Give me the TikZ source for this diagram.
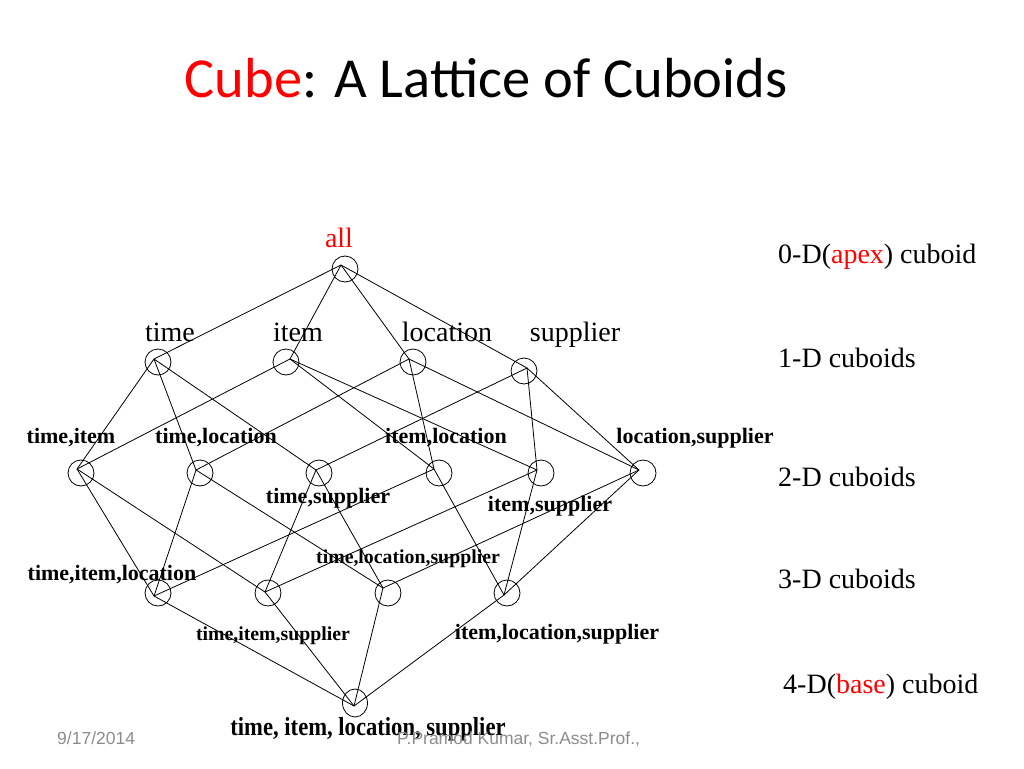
\documentclass[tikz,border=0pt]{standalone}
\usepackage{fontspec}
\setmainfont{Liberation Serif}
\newfontfamily\titlefont{Carlito}
\newfontfamily\footfont{Liberation Sans}
\usetikzlibrary{shapes.geometric}
\definecolor{hired}{HTML}{FF0000}
\definecolor{footgray}{HTML}{8C8C8C}
\tikzset{
  cub/.style={circle,draw,line width=0.8pt,minimum size=26pt,inner sep=0pt},
  basecub/.style={ellipse,draw,line width=0.8pt,minimum width=25pt,minimum height=28pt,inner sep=0pt},
  edge/.style={line width=0.8pt},
  lab/.style={font=\fontsize{28}{30}\selectfont,anchor=base,inner sep=0pt},
  blab/.style={font=\fontsize{22}{24}\selectfont\bfseries,anchor=base,inner sep=0pt},
  slab/.style={font=\fontsize{19.8}{22}\selectfont\bfseries,anchor=base,inner sep=0pt},
  foot/.style={font=\fontsize{17.5}{19}\selectfont\footfont,text=footgray,anchor=base,inner sep=0pt},
}
\begin{document}
\begin{tikzpicture}[x=1pt,y=-1pt]
\useasboundingbox (0,0) rectangle (1024,768);
% title
\node[font=\fontsize{56.5}{60}\selectfont\titlefont,anchor=base,inner sep=0pt] (title) at (486,97) {\textcolor{hired}{Cube}: A Lattice of Cuboids};
% nodes
\node[cub] (all) at (345,269) {};
\node[cub] (time) at (158,362) {};
\node[cub] (item) at (286,362) {};
\node[cub] (loc) at (413,362) {};
\node[cub] (sup) at (524,371) {};
\node[cub] (ti) at (81,473) {};
\node[cub] (tl) at (200,473) {};
\node[cub] (ts) at (319,473) {};
\node[cub] (il) at (439,473) {};
\node[cub] (is) at (541,473) {};
\node[cub] (ls) at (643,473) {};
\node[cub] (til) at (158,593) {};
\node[cub] (tis) at (268,593) {};
\node[cub] (tls) at (388,593) {};
\node[cub] (ils) at (507,593) {};
\node[basecub] (base) at (355,703) {};
% convergence points
\coordinate (allp) at (341,265);
\coordinate (timep) at (154,359);
\coordinate (itemp) at (290,359);
\coordinate (locp) at (409,359);
\coordinate (supp) at (527,368);
\coordinate (tip) at (77,469);
\coordinate (tlp) at (196,470);
\coordinate (tsp) at (316,470);
\coordinate (ilp) at (434,469);
\coordinate (isp) at (537,470);
\coordinate (lsp) at (639,470);
\coordinate (tilp) at (154,596);
\coordinate (tisp) at (265,592);
\coordinate (tlsp) at (383,588);
\coordinate (ilsp) at (504,595);
\coordinate (basep) at (354,706);
% edges
\foreach \a/\b in {allp/timep,allp/itemp,allp/locp,allp/supp,
  timep/tip,timep/tlp,timep/tsp,
  itemp/tip,itemp/ilp,itemp/isp,
  locp/tlp,locp/ilp,locp/lsp,
  supp/tsp,supp/isp,supp/lsp,
  tip/tilp,tip/tisp,
  tlp/tilp,tlp/tlsp,
  tsp/tisp,tsp/tlsp,
  ilp/tilp,ilp/ilsp,
  isp/tisp,isp/ilsp,
  lsp/tlsp,lsp/ilsp,
  tilp/basep,tisp/basep,tlsp/basep,ilsp/basep}
  \draw[edge] (\a) -- (\b);
% labels
\node[lab,text=hired] (lall) at (339,247) {all};
\node[lab] (ltime) at (170,341) {time};
\node[lab] (litem) at (298,341) {item};
\node[lab] (lloc) at (447,341) {location};
\node[lab] (lsup) at (575,341) {supplier};
\node[blab] (lti) at (71,443) {time,item};
\node[blab] (ltl) at (216,443) {time,location};
\node[blab] (lil) at (446,443) {item,location};
\node[blab] (lls) at (695,443) {location,supplier};
\node[blab] (lts) at (328,503) {time,supplier};
\node[blab] (lis) at (550,511) {item,supplier};
\node[slab] (ltls) at (408,563) {time,location,supplier};
\node[blab] (ltil) at (112,580) {time,item,location};
\node[slab] (ltis) at (273,640) {time,item,supplier};
\node[blab] (lils) at (557,639) {item,location,supplier};
\node[font=\fontsize{26}{28}\selectfont\bfseries,anchor=base,inner sep=0pt] (lbase) at (368,735) {\scalebox{0.87}[1]{time, item, location, supplier}};
% right column
\node[lab,anchor=base west] (r0) at (778,263) {0-D(\textcolor{hired}{apex}) cuboid};
\node[lab,anchor=base west] (r1) at (778,367) {1-D cuboids};
\node[lab,anchor=base west] (r2) at (778,486) {2-D cuboids};
\node[lab,anchor=base west] (r3) at (778,588) {3-D cuboids};
\node[lab,anchor=base west] (r4) at (783,693) {4-D(\textcolor{hired}{base}) cuboid};
% footer
\node[foot,anchor=base west] (date) at (57,744) {9/17/2014};
\node[foot,anchor=base west] (author) at (397,744) {P.Pramod Kumar, Sr.Asst.Prof.,};
\end{tikzpicture}
\end{document}
